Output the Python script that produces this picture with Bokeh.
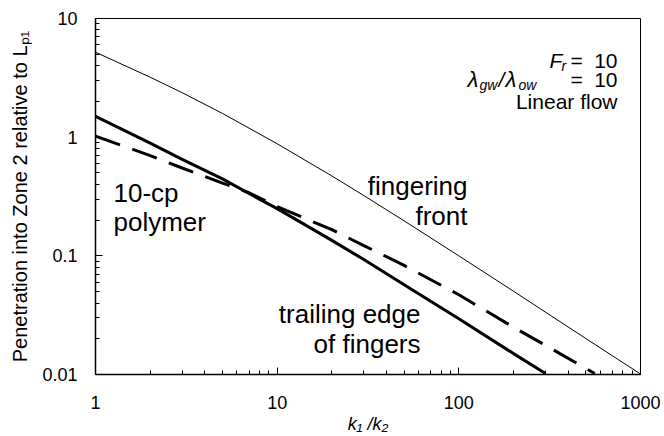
import math
from bokeh.plotting import figure
from bokeh.models import Label, LogTicker, CustomJSTickFormatter
from bokeh.embed import file_html
from bokeh.resources import INLINE

# ---- data ----
x_front = [1, 2, 3, 5, 10, 20, 30, 50, 100, 200, 500, 1000]
y_front = [5.2, 3.2, 2.37, 1.585, 0.88, 0.471, 0.322, 0.197, 0.1, 0.0503, 0.0201, 0.0101]

x_trail = [1, 2, 3, 5, 7, 10, 20, 30, 50, 100, 200, 300]
y_trail = [1.5, 0.89, 0.65, 0.445, 0.335, 0.25, 0.135, 0.093, 0.057, 0.0295, 0.015, 0.0102]

x_poly = [1, 2, 3, 5, 7, 10, 20, 30, 50, 100, 200, 300, 560]
y_poly = [1.02, 0.70, 0.55, 0.41, 0.34, 0.26, 0.166, 0.122, 0.083, 0.047, 0.025, 0.0176, 0.0102]

x_limits = (1, 1000)
y_limits = (0.01, 10)
x_title = "k\u2081 /k\u2082"
y_title = "Penetration into Zone 2 relative to L\u209a\u2081"

FONT = "Liberation Sans"

p = figure(width=664, height=436, x_axis_type="log", y_axis_type="log",
           x_range=x_limits, y_range=y_limits, output_backend="svg",
           toolbar_location=None, min_border_left=95, min_border_right=24,
           min_border_top=18, min_border_bottom=59)
p.xgrid.visible = False
p.ygrid.visible = False
p.outline_line_color = "black"
p.outline_line_width = 1
p.background_fill_color = "white"
p.border_fill_color = "white"

fmt = CustomJSTickFormatter(code="return Number(tick.toPrecision(6)).toString();")
for ax in (p.xaxis[0], p.yaxis[0]):
    ax.ticker = LogTicker(num_minor_ticks=10)
    ax.formatter = fmt
    ax.axis_line_color = "black"
    ax.axis_line_width = 1.5
    ax.major_tick_line_color = "black"
    ax.minor_tick_line_color = "black"
    ax.major_tick_in = 7
    ax.major_tick_out = 0
    ax.minor_tick_in = 4
    ax.minor_tick_out = 0
    ax.major_label_text_font = FONT
    ax.major_label_text_font_size = "18px"
    ax.major_label_text_color = "black"
    ax.axis_label_text_font = FONT
    ax.axis_label_text_color = "black"
p.xaxis.major_label_standoff = 21
p.yaxis.major_label_standoff = 18
p.xaxis.axis_label = x_title
p.xaxis.axis_label_text_font_style = "italic"
p.xaxis.axis_label_text_font_size = "18px"
p.xaxis.axis_label_standoff = 2
p.yaxis.axis_label = y_title
p.yaxis.axis_label_text_font_style = "normal"
p.yaxis.axis_label_text_font_size = "20px"
p.yaxis.axis_label_standoff = 8

p.line(x_front, y_front, line_color="black", line_width=1)
p.line(x_trail, y_trail, line_color="black", line_width=3)
p.line(x_poly, y_poly, line_color="black", line_width=3, line_dash="26 13")


def txt(s, px, py, size, align="left", italic=False, angle=0.0):
    # px, py: page pixel position; frame spans page (95,18)-(640,377)
    p.add_layout(Label(x=px - 95, y=377 - py, x_units="screen", y_units="screen",
                       text=s, text_font=FONT, text_font_size=f"{size}px",
                       text_font_style="italic" if italic else "normal",
                       text_align=align, text_baseline="alphabetic",
                       angle=angle, text_color="black"))


# parameter block
txt("F", 549, 63, 21, italic=True)
txt("r", 561, 68, 14, italic=True)
txt("=", 570, 63, 21)
txt("10", 617, 63, 21, align="right")
txt("\u03bb", 467, 82, 22, italic=True)
txt("gw", 479, 87, 14, italic=True)
txt("/", 498, 82, 21, italic=True)
txt("\u03bb", 505, 82, 22, italic=True)
txt("ow", 518, 87, 14, italic=True)
txt("=", 570, 82, 21)
txt("10", 617, 82, 21, align="right")
txt("Linear flow", 617, 104, 21, align="right")

# curve labels
txt("10-cp", 113, 195, 26)
txt("polymer", 113, 224, 26)
txt("fingering", 467, 188, 26, align="right")
txt("front", 467, 218, 26, align="right")
txt("trailing edge", 420, 316, 26, align="right")
txt("of fingers", 420, 346, 26, align="right")

open("out.html", "w").write(file_html(p, INLINE))
